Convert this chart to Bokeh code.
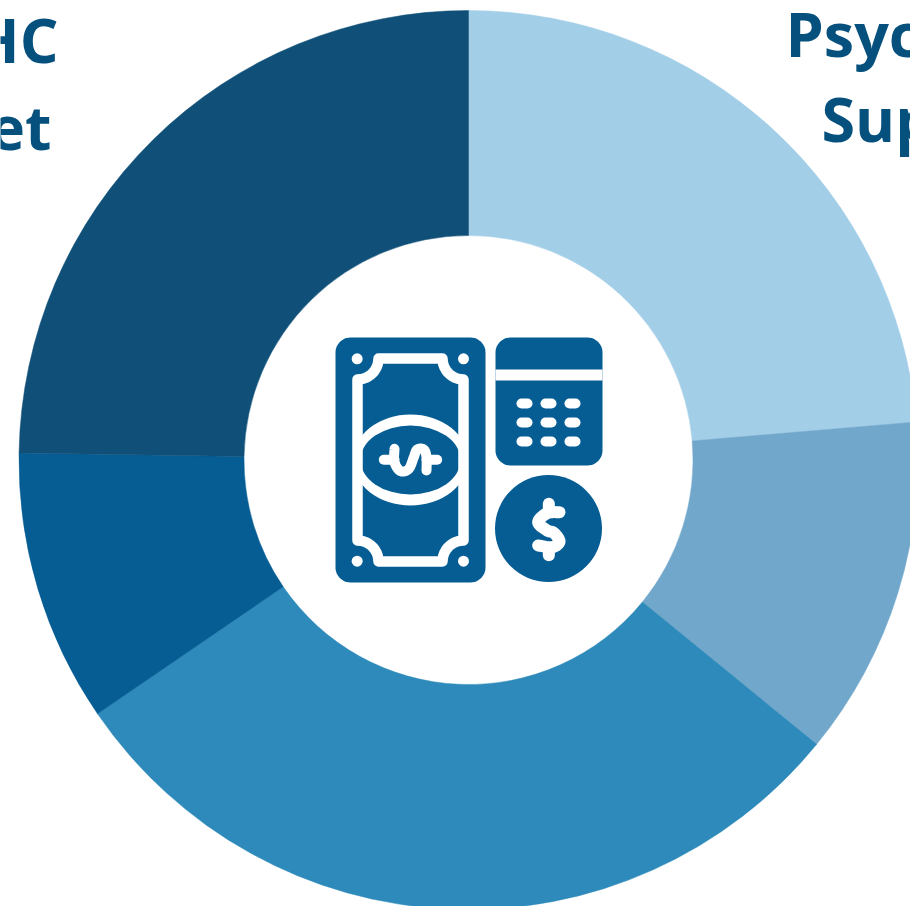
import numpy as np
from bokeh.plotting import figure
from bokeh.models import Range1d, ColumnDataSource
from bokeh.core.properties import value
from bokeh.embed import file_html
from bokeh.resources import INLINE

# slice shares, clockwise from twelve o'clock (percent)
shares = [23.65, 12.25, 29.55, 9.8, 24.75]
colors = ["#A3CEE8", "#70A7CB", "#2D8ABA", "#065D94", "#105078"]
label_texts = ["HC", "et", "Psyc", "Sup"]

BLUE = "#065D94"
TXT = "#06507D"
WHITE = "#FFFFFF"
CX, CY, R_OUT, R_IN = 468.0, 459.5, 449.5, 224.5

p = figure(width=910, height=906, output_backend="svg", toolbar_location=None,
           x_range=Range1d(0, 910), y_range=Range1d(-906, 0), min_border=0,
           background_fill_color=WHITE, border_fill_color=WHITE)
p.axis.visible = False
p.grid.visible = False
p.outline_line_color = None

edges = np.concatenate([[0], np.cumsum(shares)]) / sum(shares) * 2 * np.pi
src = ColumnDataSource(dict(start=np.pi / 2 - edges[1:], end=np.pi / 2 - edges[:-1],
                            color=colors, x=[CX] * 5, y=[-CY] * 5))
p.annular_wedge(x="x", y="y", inner_radius=R_IN, outer_radius=R_OUT, start_angle="start",
                end_angle="end", color="color", line_color="color", line_width=0.5, source=src)


def txt(t, x, y, align):
    p.text([x], [-y], text=[t], text_font=value("Open Sans"), text_font_style="bold",
           text_font_size="61px", text_color=TXT, text_align=align, text_baseline="alphabetic")


txt(label_texts[0], 58, 39, "right")
txt(label_texts[1], 51, 126, "right")
txt(label_texts[2], 785, 33, "left")
txt(label_texts[3], 821, 118, "left")


def rrect(x0, y0, x1, y1, r):
    t = np.linspace(0, np.pi / 2, 12)
    xs = np.concatenate([x1 - r + r * np.sin(t), x1 - r + r * np.cos(t), x0 + r - r * np.sin(t), x0 + r - r * np.cos(t)])
    ys = np.concatenate([y0 + r - r * np.cos(t), y1 - r + r * np.sin(t), y1 - r + r * np.cos(t), y0 + r - r * np.sin(t)])
    return xs, ys


def fill(xs, ys, color=BLUE):
    p.patch(xs, -np.asarray(ys), fill_color=color, line_color=None)


def stroke(pts, w=10, color=WHITE):
    a = np.asarray(pts, dtype=float)
    p.line(a[:, 0], -a[:, 1], line_color=color, line_width=w, line_cap="round", line_join="round")


def smooth(pts, n=12):
    # Catmull-Rom through the traced points
    a = np.asarray(pts, dtype=float)
    a = np.vstack([a[0], a, a[-1]])
    out = []
    for i in range(1, len(a) - 2):
        p0, p1, p2, p3 = a[i - 1], a[i], a[i + 1], a[i + 2]
        for t in np.linspace(0, 1, n, endpoint=False):
            out.append(0.5 * (2 * p1 + (p2 - p0) * t + (2 * p0 - 5 * p1 + 4 * p2 - p3) * t ** 2
                              + (3 * p1 - p0 - 3 * p2 + p3) * t ** 3))
    out.append(a[-2])
    return np.array(out)


def z1(x, y):
    return (320 + x / 3, 325 + y / 3)


def z2(x, y):
    return (485 + x / 3, 325 + y / 3)


# banknote
fill(*rrect(335, 337, 485, 582, 15))
mx, my = 410, 459.5
p.ellipse([mx], [-my], width=115, height=91, fill_color=WHITE, line_color=None)
p.ellipse([mx], [-my], width=100, height=69, fill_color=BLUE, line_color=None)
L, Rr, T, B, ar = 357, 463, 358, 561, 21
t = np.linspace(0, np.pi / 2, 12)
frame = np.concatenate([
    np.c_[L + ar * np.sin(t), T + ar * np.cos(t)],
    np.c_[Rr - ar * np.cos(t), T + ar * np.sin(t)],
    np.c_[Rr - ar * np.sin(t), B - ar * np.cos(t)],
    np.c_[L + ar * np.cos(t), B - ar * np.sin(t)],
])
frame = np.vstack([frame, frame[0]])
stroke(frame, 10.5)
for cx, cy in [z1(110, 100), z1(429, 100), z1(110, 707), z1(429, 707)]:
    p.circle([cx], [-cy], radius=5.5, fill_color=WHITE, line_color=None)
stroke([z1(190, 403), z1(222, 403)], 10)
stroke([z1(318, 403), z1(350, 403)], 10)
stroke(smooth([z1(222, 370), z1(222, 410), z1(240, 437), z1(265, 430), z1(280, 395),
               z1(290, 372), z1(310, 372), z1(318, 395), z1(318, 435)]), 10)

# calendar
fill(*rrect(495, 337, 602, 465, 15))
fill([495, 602, 602, 495], [369, 369, 380, 380], WHITE)
for cy in (403, 422, 441):
    for cx in (524, 548, 572):
        stroke([(cx - 3, cy), (cx + 3, cy)], 10)

# coin
p.circle([548], [-528], radius=53.5, fill_color=BLUE, line_color=None)
stroke([z2(190, 535), z2(190, 555)], 12)
stroke([z2(190, 670), z2(190, 689)], 12)
stroke(smooth([z2(222, 560), z2(185, 563), z2(158, 590), z2(185, 615), z2(205, 622),
               z2(222, 648), z2(200, 665), z2(158, 660)]), 12)

open("out.html", "w").write(file_html(p, INLINE))
